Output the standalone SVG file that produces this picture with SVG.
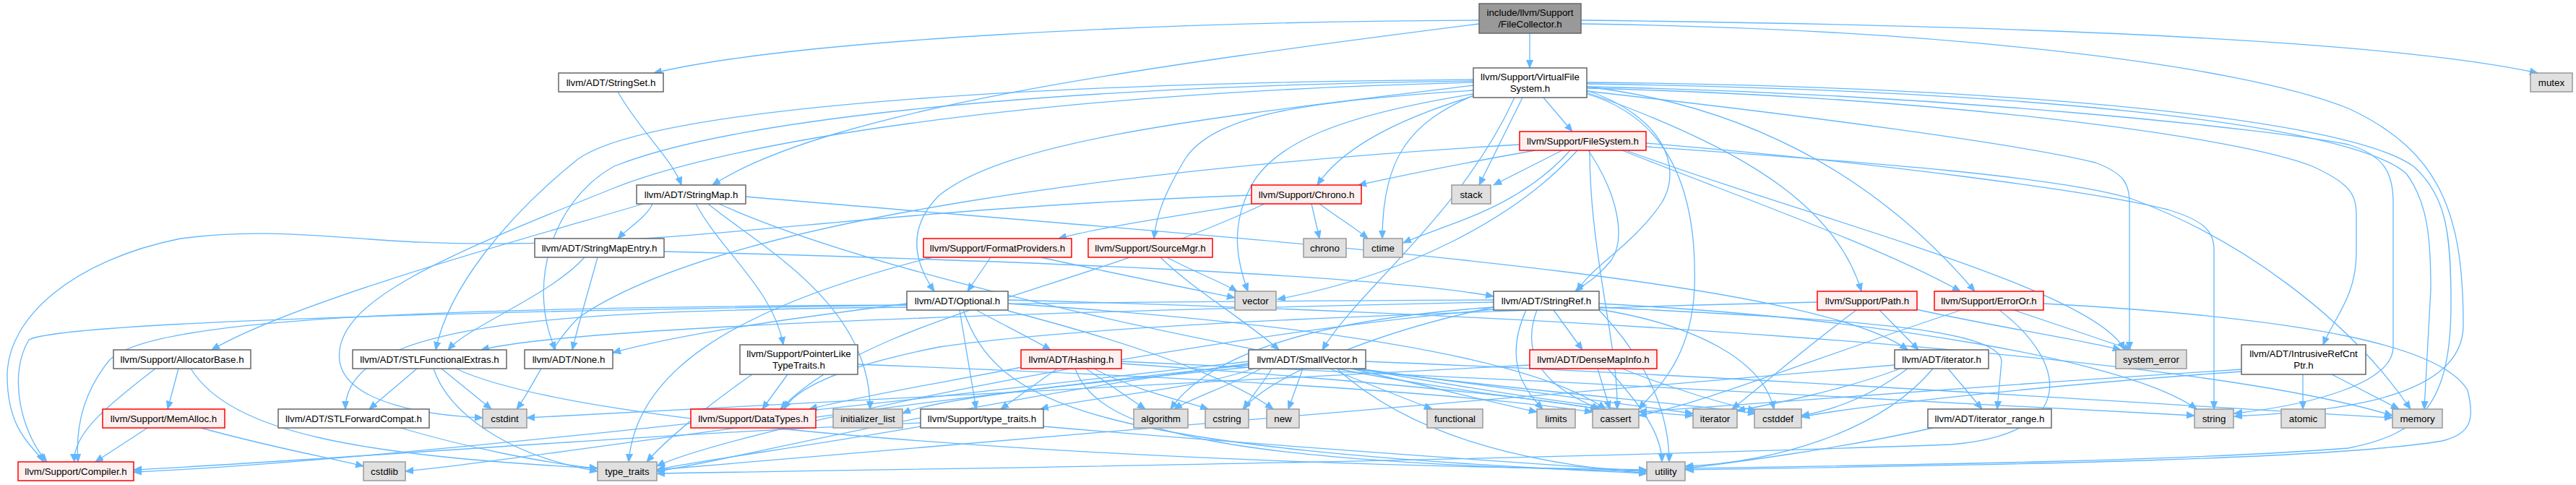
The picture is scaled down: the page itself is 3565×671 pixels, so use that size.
<svg xmlns="http://www.w3.org/2000/svg" width="3565" height="671" viewBox="0 0 3565 671">
<style>
.e path{fill:none;stroke:#63b8ff;stroke-width:1.3;marker-end:url(#a)}
rect{stroke-width:1.5}
.n rect{fill:#fff;stroke:#666}
.r rect{fill:#fff0f0;stroke:#f00}
.s rect{fill:#e0e0e0;stroke:#999}
.root rect{fill:#999;stroke:#666}
text{font-family:"Liberation Sans",Arial,Helvetica,sans-serif;font-size:13.33px;text-anchor:middle;fill:#000}
</style>
<defs>
<marker id="a" markerWidth="12" markerHeight="10" refX="11" refY="5" orient="auto" markerUnits="userSpaceOnUse"><path d="M0,0.5 L11,5 L0,9.5 z" fill="#63b8ff" stroke="#63b8ff"/></marker>
</defs>
<rect x="0" y="0" width="3565" height="671" fill="#fff" stroke="none"/>
<g class="e" id="edges">
<path d="M2047,28 C1600,30 1100,55 905,101"/>
<path d="M2047,33 C1600,90 1150,150 986,256"/>
<path d="M2117,46 L2117,94"/>
<path d="M2188,28 C2800,35 3300,55 3512,101"/>
<path d="M2188,33 C2700,40 3100,90 3250,150 C3380,210 3409,300 3409,450 C3409,560 3200,570 3092,576"/>
<path d="M855,127 C885,180 930,220 943,256"/>
<path d="M903,282 C895,300 870,315 855,330"/>
<path d="M890,282 C800,310 420,410 293,484"/>
<path d="M963,282 C1000,350 1070,400 1084,477"/>
<path d="M980,282 C1050,340 1205,420 1204,566"/>
<path d="M1032,272 C1700,330 2500,380 2640,484"/>
<path d="M995,282 C1300,420 2100,560 2343,575"/>
<path d="M809,356 C760,410 650,450 620,484"/>
<path d="M827,356 C815,400 800,450 792,484"/>
<path d="M919,348 C1400,360 1900,380 2067,410"/>
<path d="M215,510 C150,560 100,600 103,639"/>
<path d="M247,510 L232,566"/>
<path d="M264,510 C320,600 500,630 827,648"/>
<path d="M204,592 L132,639"/>
<path d="M278,592 C380,620 450,632 503,645"/>
<path d="M577,510 L511,566"/>
<path d="M611,510 L680,566"/>
<path d="M600,510 C620,570 700,630 827,652"/>
<path d="M631,510 C800,590 1500,640 2279,650"/>
<path d="M554,592 C650,620 750,640 827,648"/>
<path d="M1090,518 L1055,566"/>
<path d="M1041,518 C980,560 920,610 895,639"/>
<path d="M1187,504 C1600,520 2000,540 2204,570"/>
<path d="M1351,429 C1390,450 1430,470 1454,484"/>
<path d="M1255,420 C1100,440 950,460 848,488"/>
<path d="M1255,425 C800,430 478,440 478,566"/>
<path d="M1255,422 C600,425 200,440 150,500 C110,550 105,600 108,639"/>
<path d="M1328,429 L1351,566"/>
<path d="M1395,420 C1700,440 2100,480 2222,566"/>
<path d="M1395,415 C2000,430 3000,480 3311,575"/>
<path d="M1395,430 C1550,470 1700,520 1762,566"/>
<path d="M1333,429 C1380,560 1500,620 2279,655"/>
<path d="M1414,508 C1300,530 1180,550 1120,566"/>
<path d="M1463,510 L1385,566"/>
<path d="M1503,510 L1585,566"/>
<path d="M1514,510 C1570,540 1640,555 1672,566"/>
<path d="M1552,503 C1800,520 2100,545 2212,566"/>
<path d="M1552,500 C2000,520 2800,560 3037,575"/>
<path d="M1488,510 C1520,600 1700,640 2279,652"/>
<path d="M1274,585 C900,600 400,640 185,650"/>
<path d="M1274,590 C1100,620 950,640 909,650"/>
<path d="M1444,590 C1800,620 2100,640 2279,652"/>
<path d="M1728,500 C1200,560 500,640 185,653"/>
<path d="M1735,510 C1650,540 1500,550 1440,566"/>
<path d="M1745,510 C1700,535 1650,550 1625,566"/>
<path d="M1850,510 C2000,540 2150,555 2214,566"/>
<path d="M1870,510 C2100,540 2350,560 2430,572"/>
<path d="M1728,505 C1200,560 700,640 561,652"/>
<path d="M1760,510 C1745,535 1730,550 1722,566"/>
<path d="M1840,510 L1982,566"/>
<path d="M1728,508 C1500,530 1300,550 1249,572"/>
<path d="M1880,510 C2100,540 2250,560 2343,572"/>
<path d="M1870,510 C2000,540 2080,560 2127,570"/>
<path d="M1890,500 C2400,520 3000,560 3311,578"/>
<path d="M1803,510 L1783,566"/>
<path d="M1728,503 C1300,560 1000,640 909,652"/>
<path d="M1850,510 C1950,600 2100,640 2279,655"/>
<path d="M2150,429 L2190,484"/>
<path d="M2067,418 C1500,430 800,450 666,484"/>
<path d="M2213,425 C2500,440 2770,450 2770,500 L2764,566"/>
<path d="M2067,415 C1000,420 100,440 40,470 C10,520 30,600 65,639"/>
<path d="M2067,425 C1850,440 1680,480 1620,566"/>
<path d="M2127,429 C2100,500 2150,540 2214,566"/>
<path d="M2213,428 C2350,450 2440,500 2455,566"/>
<path d="M2067,425 C1900,460 1760,520 1720,566"/>
<path d="M2112,429 C2080,500 2110,540 2135,566"/>
<path d="M2213,420 C2600,440 2950,500 3040,566"/>
<path d="M2067,428 C1600,470 1000,600 909,645"/>
<path d="M2213,429 C2300,520 2310,600 2310,639"/>
<path d="M2211,510 L2228,566"/>
<path d="M2245,510 C2320,540 2390,560 2430,568"/>
<path d="M2117,505 C1500,540 900,570 729,578"/>
<path d="M2225,510 C2270,560 2300,600 2300,639"/>
<path d="M2515,418 C2000,430 1500,450 1300,480 C1150,510 1100,540 1085,566"/>
<path d="M2569,429 C2500,480 2430,540 2397,566"/>
<path d="M2601,429 L2655,484"/>
<path d="M2652,428 C2750,450 2880,470 2935,484"/>
<path d="M2714,429 C2500,500 2350,560 2268,575"/>
<path d="M2787,429 L2950,484"/>
<path d="M2767,429 C2860,500 2880,600 2700,615 C2000,640 1200,650 909,655"/>
<path d="M2828,420 C3200,440 3380,480 3415,540 C3425,580 3420,600 3380,610 C3200,640 2600,645 2333,650"/>
<path d="M2696,510 L2743,566"/>
<path d="M2640,510 C2600,540 2550,565 2493,575"/>
<path d="M2630,510 C2550,540 2450,560 2404,568"/>
<path d="M2622,505 C2000,560 1200,620 909,650"/>
<path d="M2675,510 C2600,600 2450,640 2332,645"/>
<path d="M2675,592 C2550,620 2400,640 2332,648"/>
<path d="M3187,518 L3187,566"/>
<path d="M3227,518 L3320,566"/>
<path d="M3102,511 C2800,530 2400,560 2268,570"/>
<path d="M3102,514 C2800,535 2550,565 2493,577"/>
<path d="M1606,356 C1650,400 1720,440 1770,484"/>
<path d="M1615,356 C1650,375 1690,390 1712,403"/>
<path d="M1371,356 L1339,403"/>
<path d="M1290,356 C1000,430 880,520 870,639"/>
<path d="M1440,356 C1550,380 1650,400 1709,412"/>
<path d="M1732,282 C1620,300 1520,315 1465,330"/>
<path d="M1815,282 L1826,330"/>
<path d="M1826,282 C1850,300 1875,315 1893,330"/>
<path d="M1732,270 C1200,290 1000,335 700,337 C500,340 400,310 250,330 C100,360 10,440 10,520 C10,600 50,620 60,639"/>
<path d="M1750,282 C1500,400 1200,440 1080,566"/>
<path d="M2125,208 C2000,230 1930,245 1880,256"/>
<path d="M2162,208 L2067,256"/>
<path d="M2173,208 C2100,290 2000,310 1942,336"/>
<path d="M2103,200 C1600,230 1000,300 800,440 C760,480 735,540 715,566"/>
<path d="M2198,208 C2240,270 2250,330 2230,360 C2210,385 2190,395 2180,403"/>
<path d="M2245,208 C2400,270 2600,340 2713,403"/>
<path d="M2200,208 C2200,350 2240,480 2238,566"/>
<path d="M2278,203 C2600,225 2850,245 2950,275 C3100,330 3250,440 3336,566"/>
<path d="M2278,198 C2600,225 2900,265 3000,290 C3050,305 3064,320 3064,345 L3064,566"/>
<path d="M2250,208 C2500,300 2900,400 2940,484"/>
<path d="M2183,208 C2100,300 1950,380 1768,414"/>
<path d="M2136,135 L2176,182"/>
<path d="M2039,133 C1950,160 1860,200 1823,256"/>
<path d="M2107,135 L2047,256"/>
<path d="M2039,132 C1950,170 1913,220 1913,330"/>
<path d="M2039,130 C1850,160 1760,200 1730,260 C1700,320 1715,370 1727,403"/>
<path d="M2096,135 C2020,300 1880,400 1830,484"/>
<path d="M2196,125 C2300,160 2330,230 2300,280 C2260,340 2200,370 2183,403"/>
<path d="M2196,128 C2400,200 2540,280 2576,403"/>
<path d="M2196,120 C2450,150 2620,270 2733,403"/>
<path d="M2039,118 C1700,160 1400,190 1300,270 C1250,320 1270,370 1293,403"/>
<path d="M2039,110 C1400,115 900,150 800,220 C700,300 620,400 603,484"/>
<path d="M2039,112 C1400,120 1000,170 850,230 C760,280 730,400 769,484"/>
<path d="M2039,114 C1400,130 1000,200 850,260 C600,360 460,420 470,500 C480,560 600,575 668,578"/>
<path d="M2039,125 C1800,140 1680,160 1640,220 C1610,270 1600,300 1597,330"/>
<path d="M2196,130 C2300,160 2350,250 2345,400 C2340,500 2290,540 2268,566"/>
<path d="M2196,126 C2500,160 2800,200 2900,225 C2940,240 2947,255 2947,280 L2947,484"/>
<path d="M2196,122 C2700,135 3100,190 3200,230 C3255,255 3261,270 3261,300 L3261,350 C3261,410 3230,440 3215,477"/>
<path d="M2196,116 C2800,125 3250,170 3330,240 C3360,280 3364,330 3364,400 L3355,566"/>
<path d="M2196,114 C2800,120 3250,165 3340,230 C3385,270 3392,320 3392,420 C3392,560 3350,600 3250,620 C3000,640 2500,645 2333,648"/>
<path d="M2196,120 C2700,130 3150,180 3250,200 C3300,215 3312,240 3312,280 L3312,480 C3312,530 3200,560 3092,572"/>
</g>
<g id="root" class="root"><rect x="2047" y="5" width="141" height="41"/><text x="2117.5" y="22">include/llvm/Support</text><text x="2117.5" y="38">/FileCollector.h</text></g>
<g id="StringSet" class="n"><rect x="773" y="101" width="145" height="26"/><text x="845.5" y="119">llvm/ADT/StringSet.h</text></g>
<g id="mutex" class="s"><rect x="3502" y="101" width="58" height="26"/><text x="3531" y="119">mutex</text></g>
<g id="VirtualFileSystem" class="n"><rect x="2039" y="94" width="157" height="41"/><text x="2117.5" y="111">llvm/Support/VirtualFile</text><text x="2117.5" y="127">System.h</text></g>
<g id="FileSystem" class="r"><rect x="2103" y="182" width="175" height="26"/><text x="2190.5" y="200">llvm/Support/FileSystem.h</text></g>
<g id="StringMap" class="n"><rect x="881" y="256" width="151" height="26"/><text x="956.5" y="274">llvm/ADT/StringMap.h</text></g>
<g id="Chrono" class="r"><rect x="1732" y="256" width="152" height="26"/><text x="1808" y="274">llvm/Support/Chrono.h</text></g>
<g id="stack" class="s"><rect x="2009" y="256" width="54" height="26"/><text x="2036" y="274">stack</text></g>
<g id="StringMapEntry" class="n"><rect x="740" y="330" width="179" height="26"/><text x="829.5" y="348">llvm/ADT/StringMapEntry.h</text></g>
<g id="FormatProviders" class="r"><rect x="1278" y="330" width="205" height="26"/><text x="1380.5" y="348">llvm/Support/FormatProviders.h</text></g>
<g id="SourceMgr" class="r"><rect x="1506" y="330" width="172" height="26"/><text x="1592" y="348">llvm/Support/SourceMgr.h</text></g>
<g id="chrono" class="s"><rect x="1804" y="330" width="59" height="26"/><text x="1833.5" y="348">chrono</text></g>
<g id="ctime" class="s"><rect x="1887" y="330" width="54" height="26"/><text x="1914" y="348">ctime</text></g>
<g id="Optional" class="n"><rect x="1255" y="403" width="140" height="26"/><text x="1325" y="421">llvm/ADT/Optional.h</text></g>
<g id="vector" class="s"><rect x="1709" y="403" width="57" height="26"/><text x="1737.5" y="421">vector</text></g>
<g id="StringRef" class="n"><rect x="2067" y="403" width="146" height="26"/><text x="2140" y="421">llvm/ADT/StringRef.h</text></g>
<g id="Path" class="r"><rect x="2515" y="403" width="138" height="26"/><text x="2584" y="421">llvm/Support/Path.h</text></g>
<g id="ErrorOr" class="r"><rect x="2677" y="403" width="151" height="26"/><text x="2752.5" y="421">llvm/Support/ErrorOr.h</text></g>
<g id="AllocatorBase" class="n"><rect x="157" y="484" width="190" height="26"/><text x="252" y="502">llvm/Support/AllocatorBase.h</text></g>
<g id="STLFunctionalExtras" class="n"><rect x="488" y="484" width="213" height="26"/><text x="594.5" y="502">llvm/ADT/STLFunctionalExtras.h</text></g>
<g id="None" class="n"><rect x="726" y="484" width="122" height="26"/><text x="787" y="502">llvm/ADT/None.h</text></g>
<g id="PointerLikeTypeTraits" class="n"><rect x="1024" y="477" width="163" height="41"/><text x="1105.5" y="494">llvm/Support/PointerLike</text><text x="1105.5" y="510">TypeTraits.h</text></g>
<g id="Hashing" class="r"><rect x="1413" y="484" width="139" height="26"/><text x="1482.5" y="502">llvm/ADT/Hashing.h</text></g>
<g id="SmallVector" class="n"><rect x="1728" y="484" width="162" height="26"/><text x="1809" y="502">llvm/ADT/SmallVector.h</text></g>
<g id="DenseMapInfo" class="r"><rect x="2117" y="484" width="176" height="26"/><text x="2205" y="502">llvm/ADT/DenseMapInfo.h</text></g>
<g id="iterator_h" class="n"><rect x="2622" y="484" width="130" height="26"/><text x="2687" y="502">llvm/ADT/iterator.h</text></g>
<g id="system_error" class="s"><rect x="2928" y="484" width="98" height="26"/><text x="2977" y="502">system_error</text></g>
<g id="IntrusiveRefCntPtr" class="n"><rect x="3102" y="477" width="172" height="41"/><text x="3188" y="494">llvm/ADT/IntrusiveRefCnt</text><text x="3188" y="510">Ptr.h</text></g>
<g id="MemAlloc" class="r"><rect x="142" y="566" width="169" height="26"/><text x="226.5" y="584">llvm/Support/MemAlloc.h</text></g>
<g id="STLForwardCompat" class="n"><rect x="385" y="566" width="209" height="26"/><text x="489.5" y="584">llvm/ADT/STLForwardCompat.h</text></g>
<g id="cstdint" class="s"><rect x="668" y="566" width="61" height="26"/><text x="698.5" y="584">cstdint</text></g>
<g id="DataTypes" class="r"><rect x="956" y="566" width="173" height="26"/><text x="1042.5" y="584">llvm/Support/DataTypes.h</text></g>
<g id="initializer_list" class="s"><rect x="1153" y="566" width="96" height="26"/><text x="1201" y="584">initializer_list</text></g>
<g id="support_type_traits" class="n"><rect x="1274" y="566" width="170" height="26"/><text x="1359" y="584">llvm/Support/type_traits.h</text></g>
<g id="algorithm" class="s"><rect x="1569" y="566" width="75" height="26"/><text x="1606.5" y="584">algorithm</text></g>
<g id="cstring" class="s"><rect x="1668" y="566" width="60" height="26"/><text x="1698" y="584">cstring</text></g>
<g id="new" class="s"><rect x="1753" y="566" width="45" height="26"/><text x="1775.5" y="584">new</text></g>
<g id="functional" class="s"><rect x="1975" y="566" width="77" height="26"/><text x="2013.5" y="584">functional</text></g>
<g id="limits" class="s"><rect x="2127" y="566" width="53" height="26"/><text x="2153.5" y="584">limits</text></g>
<g id="cassert" class="s"><rect x="2204" y="566" width="64" height="26"/><text x="2236" y="584">cassert</text></g>
<g id="iterator" class="s"><rect x="2343" y="566" width="61" height="26"/><text x="2373.5" y="584">iterator</text></g>
<g id="cstddef" class="s"><rect x="2428" y="566" width="65" height="26"/><text x="2460.5" y="584">cstddef</text></g>
<g id="iterator_range" class="n"><rect x="2668" y="566" width="171" height="26"/><text x="2753.5" y="584">llvm/ADT/iterator_range.h</text></g>
<g id="string" class="s"><rect x="3037" y="566" width="54" height="26"/><text x="3064" y="584">string</text></g>
<g id="atomic" class="s"><rect x="3157" y="566" width="61" height="26"/><text x="3187.5" y="584">atomic</text></g>
<g id="memory" class="s"><rect x="3311" y="566" width="69" height="26"/><text x="3345.5" y="584">memory</text></g>
<g id="Compiler" class="r"><rect x="25" y="639" width="160" height="26"/><text x="105" y="657">llvm/Support/Compiler.h</text></g>
<g id="cstdlib" class="s"><rect x="503" y="639" width="58" height="26"/><text x="532" y="657">cstdlib</text></g>
<g id="type_traits" class="s"><rect x="827" y="639" width="82" height="26"/><text x="868" y="657">type_traits</text></g>
<g id="utility" class="s"><rect x="2279" y="639" width="53" height="26"/><text x="2305.5" y="657">utility</text></g>
</svg>
